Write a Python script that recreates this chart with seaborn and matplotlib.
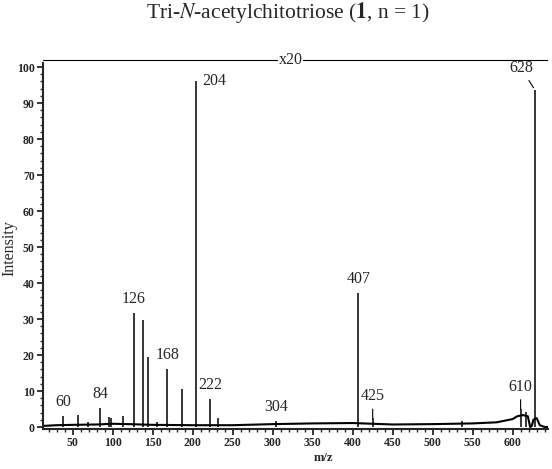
import numpy as np
import pandas as pd
import seaborn as sns
import matplotlib.pyplot as plt
from matplotlib.ticker import MultipleLocator, FixedLocator

# Peaks (stick lines)
peak_mz = [38, 57, 69, 84, 95, 98, 113, 126, 138, 144, 155, 168, 186, 204,
           222, 232, 304, 407, 425, 537, 610, 617, 628]
peak_int = [3.0, 3.3, 1.5, 5.4, 2.8, 2.6, 3.0, 31.6, 29.7, 19.5, 1.5, 16.0,
            10.6, 96.0, 7.8, 2.4, 1.8, 37.2, 2.4, 1.8, 5.0, 4.2, 93.6]

# Baseline trace between the peaks
base_mz = [12, 30, 50, 80, 100, 120, 150, 200, 250, 300, 350, 400, 450, 500,
           550, 580, 600, 606, 613, 619, 622, 624, 626, 630, 634, 640, 645]
base_int = [0.3, 0.5, 0.6, 0.7, 0.9, 0.8, 0.6, 0.5, 0.5, 0.8, 1.0, 1.1, 0.7,
            0.8, 1.0, 1.3, 2.2, 3.0, 3.3, 3.0, 0.0, 0.3, 2.0, 2.5, 0.5, 0.0, 0.0]

# Labelled peaks (the first label sits over the small peak near m/z 38 in the original)
label_mz = [38, 84, 126, 168, 204, 222, 304, 407, 425, 610, 628]
label_text = ['60', '84', '126', '168', '204', '222', '304', '407', '425', '610', '628']

sns.set_theme(style="ticks")
plt.rcParams['font.family'] = ['Liberation Serif', 'DejaVu Serif']
plt.rcParams['mathtext.fontset'] = 'stix'

fig = plt.figure(figsize=(5.52, 4.69), dpi=100)
ax = fig.add_axes([0.0779, 0.0857, 0.9149, 0.8021])

df_base = pd.DataFrame({'mz': base_mz, 'intensity': base_int})
sns.lineplot(data=df_base, x='mz', y='intensity', color='black', lw=1.5, ax=ax)
ax.vlines(peak_mz, 0, peak_int, color='black', lw=1.1)

ax.set_xlim(12.6, 644.3)
ax.set_ylim(-0.5, 104)

# x20 line across the top
ax.axhline(102, color='black', lw=0.8)
ax.text(0.49, 102, 'x20', transform=ax.get_yaxis_transform(), ha='center', va='center',
        fontsize=11.5, bbox=dict(facecolor='white', edgecolor='none', pad=0.5))

# peak labels
lookup = dict(zip(peak_mz, peak_int))
fs = 11.5
for mz, txt in zip(label_mz, label_text):
    h = lookup[mz]
    if txt == '204':
        ax.annotate(txt, (mz, h), xytext=(6, 0), textcoords='offset pixels',
                    ha='left', va='center', fontsize=fs)
    elif txt == '628':
        ax.annotate(txt, (mz, h), xytext=(-14, 14), textcoords='offset pixels',
                    ha='center', va='bottom', fontsize=fs,
                    arrowprops=dict(arrowstyle='-', color='black', lw=0.8,
                                    shrinkA=1, shrinkB=2))
    elif txt in ('425', '610'):
        ax.annotate(txt, (mz, h), xytext=(0, 14), textcoords='offset pixels',
                    ha='center', va='bottom', fontsize=fs,
                    arrowprops=dict(arrowstyle='-', color='black', lw=0.8,
                                    shrinkA=1, shrinkB=0))
    else:
        ax.annotate(txt, (mz, h), xytext=(0, 6), textcoords='offset pixels',
                    ha='center', va='bottom', fontsize=fs)

# axes styling
sns.despine(ax=ax)
ax.spines['left'].set_linewidth(1.5)
ax.spines['bottom'].set_linewidth(1.5)
ax.spines['left'].set_bounds(-0.5, 101)
ax.set_xticks(np.arange(50, 601, 50))
ax.xaxis.set_minor_locator(MultipleLocator(10))
ax.set_yticks(np.arange(0, 101, 10))
ax.yaxis.set_minor_locator(FixedLocator(np.arange(0, 101, 2)))
ax.tick_params(which='major', direction='out', length=4, width=1.3, labelsize=8.5, pad=2)
ax.tick_params(which='minor', direction='out', length=2, width=1.0)
for lab in ax.get_xticklabels() + ax.get_yticklabels():
    lab.set_fontweight('bold')

ax.set_xlabel('m/z', fontsize=9, fontweight='bold')
ax.xaxis.set_label_coords(0.556, -0.062)
ax.set_ylabel('Intensity', fontsize=11.5)
ax.yaxis.set_label_coords(-0.05, 0.48)

fig.text(0.522, 0.973, r'Tri-$\mathit{N}$-acetylchitotriose ($\mathbf{1}$, n = 1)',
         ha='center', va='center', fontsize=15.5)

fig.savefig('out.png', dpi=100)
